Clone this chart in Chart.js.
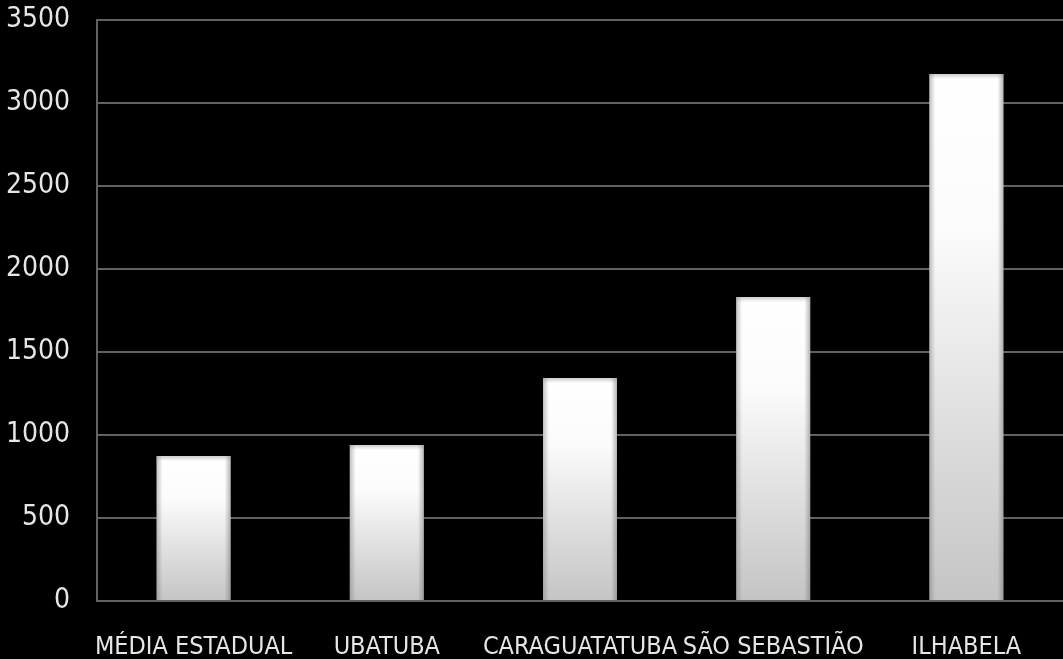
<!DOCTYPE html>
<html><head><meta charset="utf-8">
<script src="https://cdn.jsdelivr.net/npm/chart.js@4/dist/chart.umd.min.js"></script>
<style>html,body{margin:0;padding:0;background:#000;}#wrap{width:1063px;height:659px;}</style>
</head><body><div id="wrap"><canvas id="c" width="1063" height="659"></canvas></div>
<script>
const categories = ["MÉDIA ESTADUAL", "UBATUBA", "CARAGUATATUBA", "SÃO SEBASTIÃO", "ILHABELA"];
const values = [873, 940, 1343, 1831, 3175];
const yTicks = [0, 500, 1000, 1500, 2000, 2500, 3000, 3500];

const FONT = "'Liberation Sans Narrow', 'DejaVu Sans Condensed', 'Open Sans', sans-serif";

function barFill(ctx) {
  const chart = ctx.chart;
  const ys = chart.scales && chart.scales.y;
  if (!chart.chartArea || !ys || ctx.raw === undefined) return '#e8e8e8';
  const top = ys.getPixelForValue(ctx.raw), bottom = ys.getPixelForValue(0);
  const g = chart.ctx.createLinearGradient(0, top, 0, bottom);
  g.addColorStop(0, '#ffffff');
  g.addColorStop(0.3, '#fbfbfb');
  g.addColorStop(1, '#c4c4c4');
  return g;
}

const bevel = {
  id: 'bevel',
  afterDatasetsDraw(chart) {
    const c = chart.ctx;
    chart.getDatasetMeta(0).data.forEach(bar => {
      const w = bar.width, x0 = bar.x - w / 2, x1 = bar.x + w / 2;
      const t = bar.y, b = bar.base, e = 6;
      c.save();
      let g = c.createLinearGradient(x0, 0, x0 + e, 0);
      g.addColorStop(0, 'rgba(120,120,120,0.45)'); g.addColorStop(1, 'rgba(120,120,120,0)');
      c.fillStyle = g; c.fillRect(x0, t, e, b - t);
      g = c.createLinearGradient(x1, 0, x1 - e, 0);
      g.addColorStop(0, 'rgba(110,110,110,0.5)'); g.addColorStop(1, 'rgba(110,110,110,0)');
      c.fillStyle = g; c.fillRect(x1 - e, t, e, b - t);
      g = c.createLinearGradient(0, t, 0, t + 5);
      g.addColorStop(0, 'rgba(140,140,140,0.45)'); g.addColorStop(1, 'rgba(140,140,140,0)');
      c.fillStyle = g; c.fillRect(x0, t, w, 5);
      c.restore();
    });
  }
};

new Chart(document.getElementById('c'), {
  type: 'bar',
  data: {
    labels: categories,
    datasets: [{
      data: values,
      backgroundColor: barFill,
      borderWidth: 0,
      barPercentage: 0.383,
      categoryPercentage: 1
    }]
  },
  plugins: [bevel],
  options: {
    responsive: false,
    animation: false,
    devicePixelRatio: 1,
    layout: { padding: { top: 20, right: 0, left: 0, bottom: 0 } },
    plugins: { legend: { display: false }, tooltip: { enabled: false } },
    scales: {
      x: {
        grid: { display: false, drawTicks: false },
        border: { display: true, color: '#626262', width: 2 },
        ticks: { color: '#e6e6e6', font: { family: FONT, size: 25 }, padding: 31, maxRotation: 0, autoSkip: false },
        afterFit: (axis) => { axis.height = 58; axis.paddingLeft = 0; axis.paddingRight = 0; }
      },
      y: {
        min: 0, max: 3500,
        afterBuildTicks: (axis) => { axis.ticks = yTicks.map(v => ({ value: v })); },
        grid: { color: '#626262', lineWidth: 2, drawTicks: false },
        border: { display: true, color: '#626262', width: 2 },
        ticks: { color: '#e6e6e6', font: { family: FONT, size: 28 }, padding: 27, callback: (v) => String(v) },
        afterFit: (axis) => { axis.width = 97; axis.paddingTop = 0; axis.paddingBottom = 0; }
      }
    }
  }
});
</script></body></html>
